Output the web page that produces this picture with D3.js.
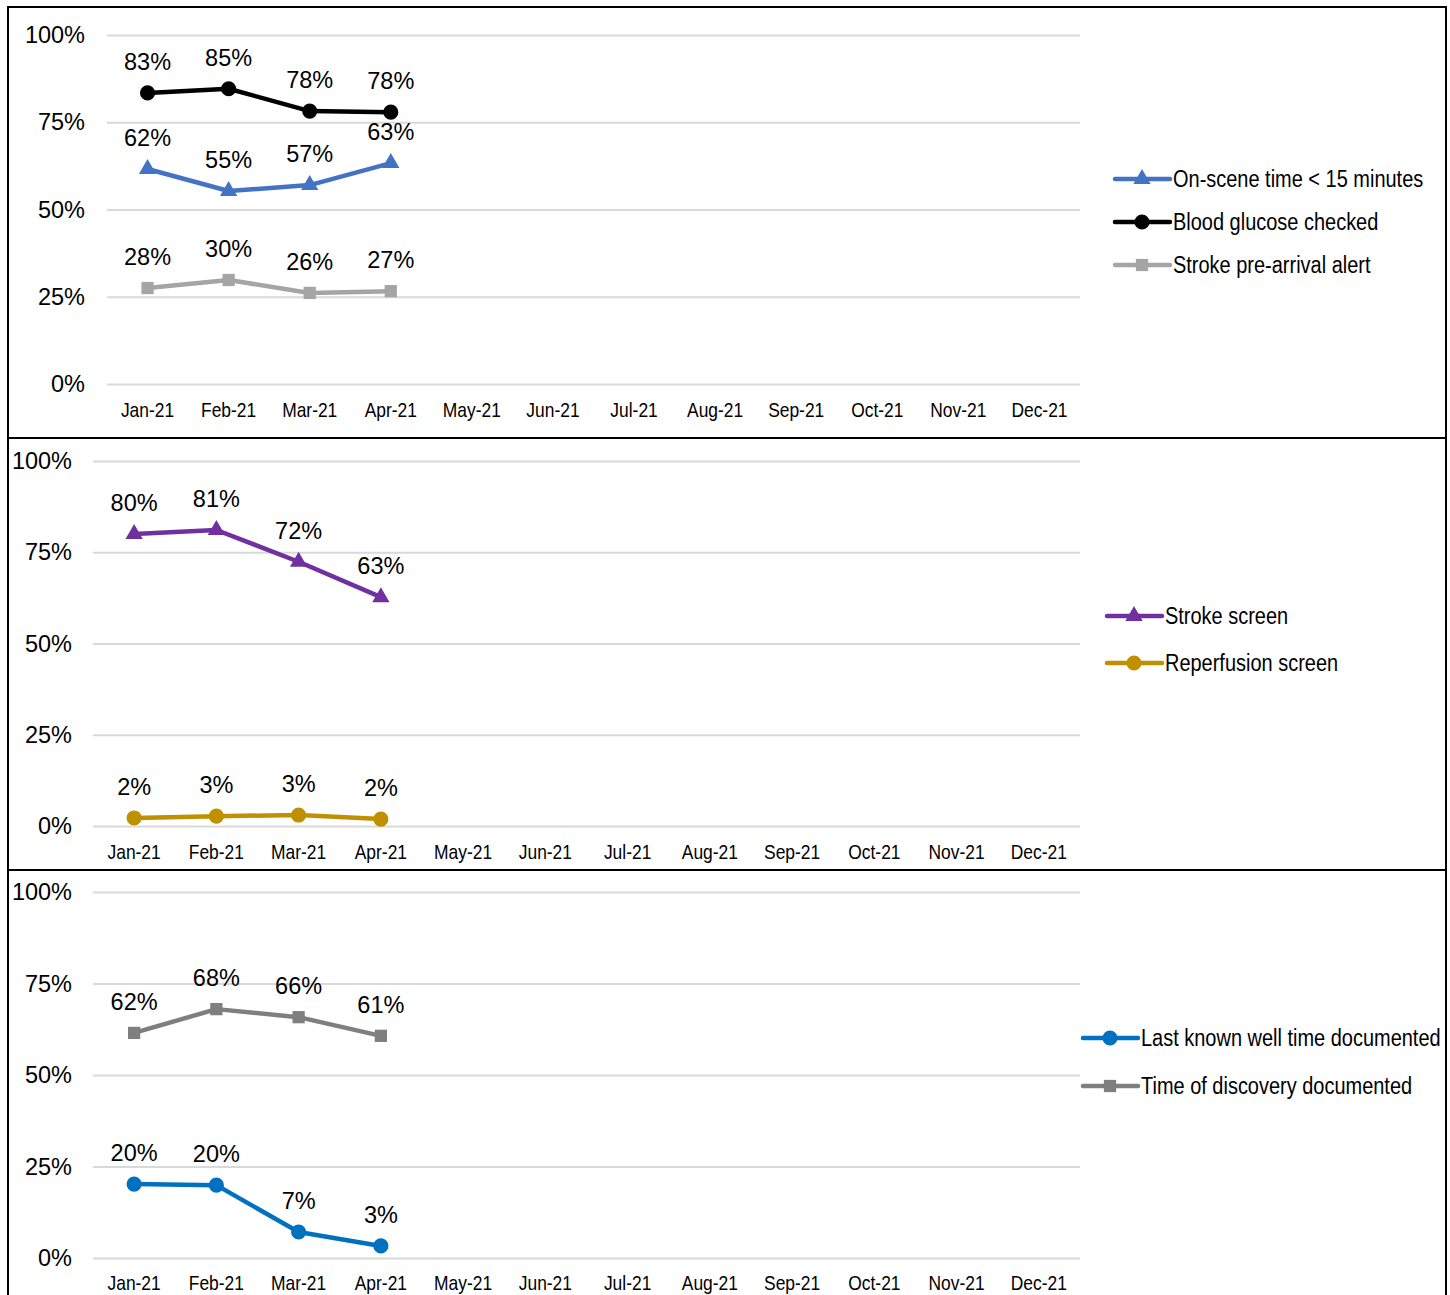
<!DOCTYPE html>
<html>
<head>
<meta charset="utf-8">
<script src="https://cdn.jsdelivr.net/npm/d3@7"></script>
<style>
  body { margin: 0; background: #fff; }
  svg { display: block; }
</style>
</head>
<body>
<div id="target"></div>
<script>
// months on x
const months = ["Jan-21","Feb-21","Mar-21","Apr-21","May-21","Jun-21","Jul-21","Aug-21","Sep-21","Oct-21","Nov-21","Dec-21"]
const yTicks = [0, 25, 50, 75, 100]

// panel 1
const onSceneTime = [61.6, 55.3, 57.0, 63.3]
const bloodGlucose = [83.4, 84.6, 78.2, 77.9]
const strokeAlert = [27.5, 29.8, 26.1, 26.6]

// panel 2
const strokeScreen = [80.0, 81.1, 72.4, 62.7]
const reperfusionScreen = [2.2, 2.7, 3.0, 1.9]

// panel 3
const lastKnownWell = [20.2, 19.9, 7.1, 3.3]
const timeOfDiscovery = [61.5, 68.0, 65.8, 60.7]

const panels = [
    {
        top: 7, bottom: 438, x0: 107, yBottom: 384, yTop: 35, tickX: 85, monthY: 410, legendX: 1115, legendY: [179, 222, 265],
        series: [
            { name: "On-scene time < 15 minutes", values: onSceneTime, color: "#4472C4", marker: "triangle" },
            { name: "Blood glucose checked", values: bloodGlucose, color: "#000000", marker: "circle" },
            { name: "Stroke pre-arrival alert", values: strokeAlert, color: "#A5A5A5", marker: "square" }
        ]
    },
    {
        top: 438, bottom: 870, x0: 93, yBottom: 826, yTop: 461, tickX: 72, monthY: 852, legendX: 1107, legendY: [616, 663],
        series: [
            { name: "Stroke screen", values: strokeScreen, color: "#7030A0", marker: "triangle" },
            { name: "Reperfusion screen", values: reperfusionScreen, color: "#BF9000", marker: "circle" }
        ]
    },
    {
        top: 870, bottom: 1310, x0: 93, yBottom: 1258, yTop: 892, tickX: 72, monthY: 1283, legendX: 1083, legendY: [1038, 1086],
        series: [
            { name: "Last known well time documented", values: lastKnownWell, color: "#0070C0", marker: "circle" },
            { name: "Time of discovery documented", values: timeOfDiscovery, color: "#7F7F7F", marker: "square" }
        ]
    }
]

const width = 1450, height = 1295
const font = "'Liberation Sans', Arial, sans-serif"
// no narrow face installed, so squeeze the regular one
const squeeze = 0.85

const svg = d3.select("#target").append("svg")
    .attr("width", width)
    .attr("height", height)

const symbols = {
    triangle: d3.symbol().type(d3.symbolTriangle).size(130),
    circle: d3.symbol().type(d3.symbolCircle).size(180),
    square: d3.symbol().type(d3.symbolSquare).size(150)
}

panels.forEach(p => {
    const g = svg.append("g")

    //Box
    g.append("rect")
        .attr("x", 8).attr("y", p.top)
        .attr("width", 1438).attr("height", p.bottom - p.top)
        .attr("fill", "none")
        .attr("stroke", "black")
        .attr("stroke-width", 2)

    const x = d3.scalePoint()
        .domain(months)
        .range([p.x0, 1080])
        .padding(0.5)

    const y = d3.scaleLinear()
        .domain([0, 100])
        .range([p.yBottom, p.yTop])

    //Grid
    const grid = g.append("g")
        .attr("transform", "translate(" + p.x0 + ",0)")
        .call(d3.axisLeft(y).tickValues(yTicks).tickSize(-(1080 - p.x0)).tickFormat(""))
    grid.select(".domain").remove()
    grid.selectAll("line").attr("stroke", "#D9D9D9").attr("stroke-width", 2)

    //Y labels
    g.selectAll(".ylab")
        .data(yTicks)
        .enter()
        .append("text")
        .attr("x", p.tickX)
        .attr("y", d => y(d))
        .attr("dy", "0.35em")
        .attr("text-anchor", "end")
        .attr("font-family", font)
        .attr("font-size", 23.5)
        .text(d => d + "%")

    //X labels
    g.selectAll(".xlab")
        .data(months)
        .enter()
        .append("text")
        .attr("transform", d => "translate(" + x(d) + "," + p.monthY + ") scale(" + squeeze + ",1)")
        .attr("dy", "0.35em")
        .attr("text-anchor", "middle")
        .attr("font-family", font)
        .attr("font-size", 20.5)
        .text(d => d)

    const line = d3.line()
        .x((d, i) => x(months[i]))
        .y(d => y(d))

    p.series.forEach((s, si) => {
        g.append("path")
            .attr("d", line(s.values))
            .attr("fill", "none")
            .attr("stroke", s.color)
            .attr("stroke-width", 4.5)
            .attr("stroke-linejoin", "round")

        g.selectAll(null)
            .data(s.values)
            .enter()
            .append("path")
            .attr("d", symbols[s.marker])
            .attr("transform", (d, i) => "translate(" + x(months[i]) + "," + y(d) + ")")
            .attr("fill", s.color)

        g.selectAll(null)
            .data(s.values)
            .enter()
            .append("text")
            .attr("x", (d, i) => x(months[i]))
            .attr("y", d => y(d) - 31)
            .attr("dy", "0.35em")
            .attr("text-anchor", "middle")
            .attr("font-family", font)
            .attr("font-size", 23.5)
            .text(d => Math.round(d) + "%")

        //Legend
        const ly = p.legendY[si]
        g.append("line")
            .attr("x1", p.legendX).attr("x2", p.legendX + 55)
            .attr("y1", ly).attr("y2", ly)
            .attr("stroke", s.color)
            .attr("stroke-width", 4.5)
            .attr("stroke-linecap", "round")
        g.append("path")
            .attr("d", symbols[s.marker])
            .attr("transform", "translate(" + (p.legendX + 27) + "," + ly + ")")
            .attr("fill", s.color)
        g.append("text")
            .attr("transform", "translate(" + (p.legendX + 58) + "," + ly + ") scale(" + squeeze + ",1)")
            .attr("dy", "0.35em")
            .attr("font-family", font)
            .attr("font-size", 23.5)
            .text(s.name)
    })
})
</script>
</body>
</html>
